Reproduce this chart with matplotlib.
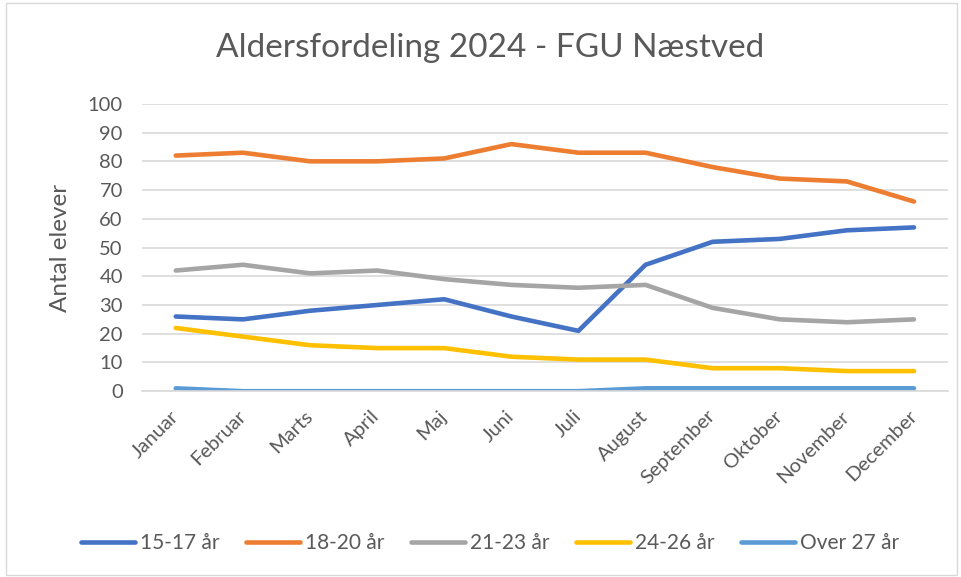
import matplotlib.pyplot as plt
from matplotlib.patches import Rectangle

plt.rcParams['font.family'] = ['Lato', 'DejaVu Sans']

maaneder = ['Januar', 'Februar', 'Marts', 'April', 'Maj', 'Juni', 'Juli',
            'August', 'September', 'Oktober', 'November', 'December']
aar_15_17 = [26, 25, 28, 30, 32, 26, 21, 44, 52, 53, 56, 57]
aar_18_20 = [82, 83, 80, 80, 81, 86, 83, 83, 78, 74, 73, 66]
aar_21_23 = [42, 44, 41, 42, 39, 37, 36, 37, 29, 25, 24, 25]
aar_24_26 = [22, 19, 16, 15, 15, 12, 11, 11, 8, 8, 7, 7]
over_27 = [1, 0, 0, 0, 0, 0, 0, 1, 1, 1, 1, 1]

serier = [
    ('15-17 år', aar_15_17, '#4472C4'),
    ('18-20 år', aar_18_20, '#ED7D31'),
    ('21-23 år', aar_21_23, '#A5A5A5'),
    ('24-26 år', aar_24_26, '#FFC000'),
    ('Over 27 år', over_27, '#5B9BD5'),
]

tekst = '#595959'
fig = plt.figure(figsize=(9.61, 5.77), dpi=100)
ax = fig.add_axes([0.148, 0.322, 0.838, 0.498])

x = range(len(maaneder))
for navn, vals, farve in serier:
    ax.plot(x, vals, color=farve, lw=3.3, solid_capstyle='round',
            solid_joinstyle='round', label=navn)

ax.set_xlim(-0.5, len(maaneder) - 0.5)
ax.set_ylim(0, 100)
ax.set_yticks(range(0, 101, 10))
ax.set_xticks(list(x))
ax.set_xticklabels(maaneder, rotation=45, ha='right', va='center',
                   rotation_mode='anchor')
ax.grid(axis='y', color='#d9d9d9', lw=1.2)
ax.set_axisbelow(True)
for s in ['top', 'right', 'left']:
    ax.spines[s].set_visible(False)
ax.spines['bottom'].set_color('#d9d9d9')
ax.spines['bottom'].set_linewidth(1.2)
ax.tick_params(length=0, labelsize=14.5, labelcolor=tekst)
ax.tick_params(axis='y', pad=14)
ax.tick_params(axis='x', pad=16)

fig.text(0.0625, 0.570, 'Antal elever', rotation=90, ha='center', va='center',
         fontsize=17.5, color=tekst)
fig.text(0.51, 0.917, 'Aldersfordeling 2024 - FGU Næstved', ha='center',
         va='center', fontsize=24, color=tekst)

ax.legend(loc='center', bbox_to_anchor=(0.51, 0.059), bbox_transform=fig.transFigure,
          ncol=5, frameon=False, fontsize=15, labelcolor=tekst,
          handlelength=2.6, handletextpad=0.25, columnspacing=1.25)

fig.patches.append(Rectangle((0.006, 0.004), 0.99, 0.99, transform=fig.transFigure,
                             fill=False, edgecolor='#d9d9d9', lw=1))

plt.savefig('out.png', dpi=100)
